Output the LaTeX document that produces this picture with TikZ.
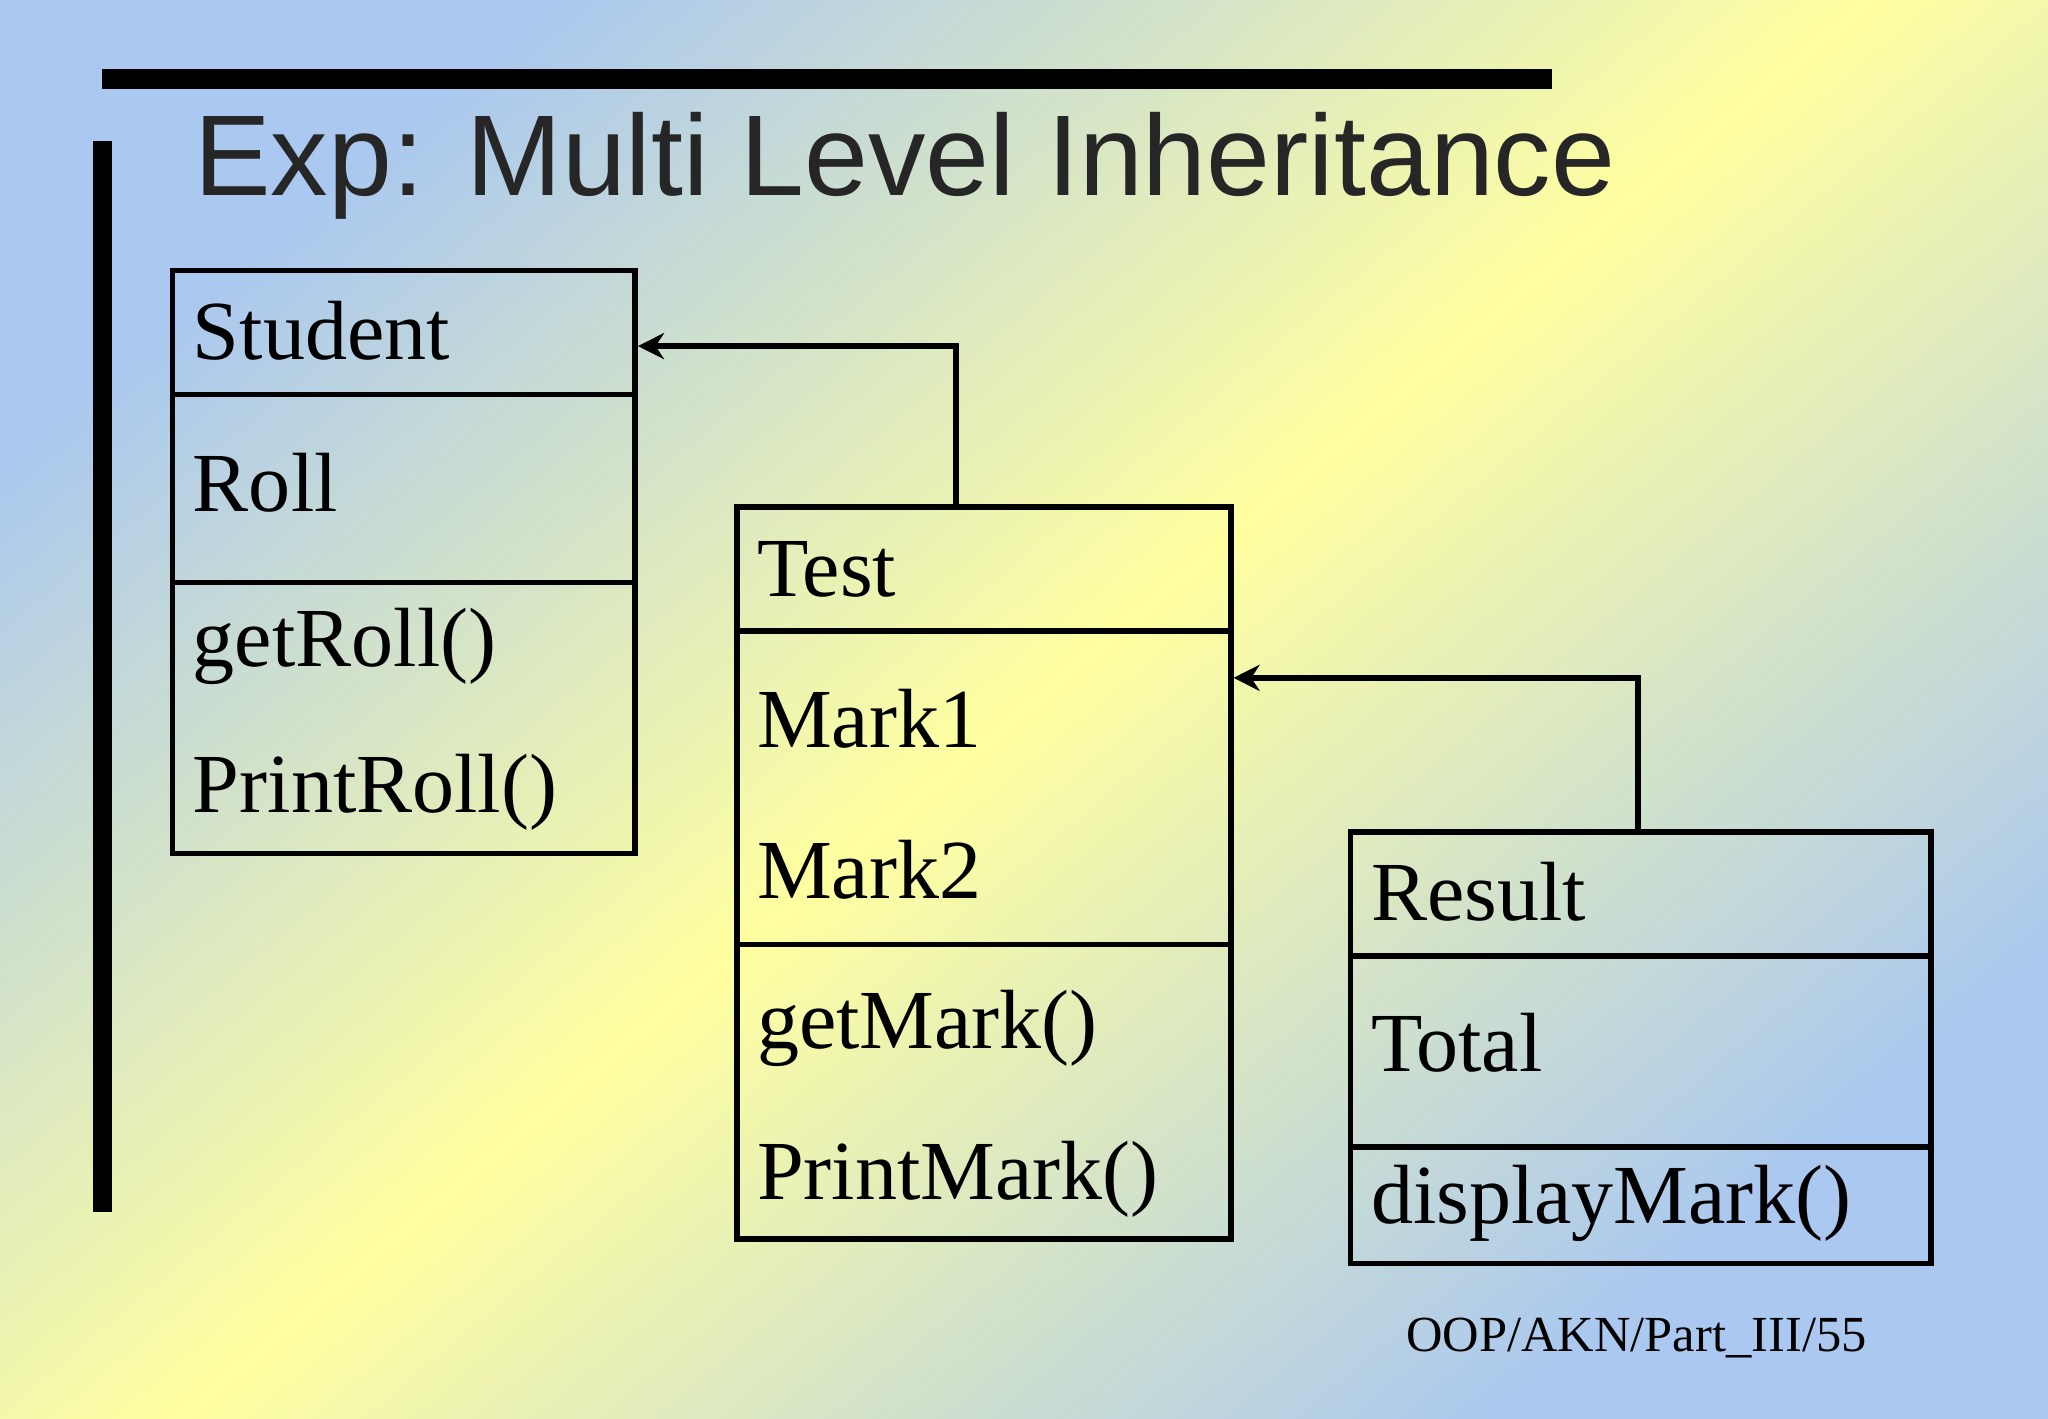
\documentclass[tikz,border=0pt]{standalone}
\usepackage{fontspec}
\setmainfont{Liberation Serif}
\newfontfamily\titlefont{Liberation Sans}
\usetikzlibrary{positioning,calc,arrows,arrows.meta}
\definecolor{bgblue}{RGB}{170,200,240}
\definecolor{bgyellow}{RGB}{255,255,160}
\tikzset{
	box/.style={draw, line width=1.2pt, anchor=north west, inner sep=0pt},
	member/.style={anchor=base west, inner sep=0pt, font=\fontsize{18.3}{18.3}\selectfont},
	divider/.style={line width=1.2pt},
	inherit/.style={line width=1.2pt, -{Stealth[length=2mm, width=2mm]}}
}

\begin{document}
\begin{tikzpicture}[x=0.01cm, y=-0.01cm]
	\useasboundingbox (0,0) rectangle (1568,1086);
	\shade[top color=bgblue, bottom color=bgblue, middle color=bgyellow, shading angle=40] (0,0) rectangle (1568,1086);

	% title and bars
	\fill (78,53) rectangle (1188,68);
	\fill (71,108) rectangle (86,928);
	\node[anchor=base west, inner sep=0pt, font=\titlefont\fontsize{25}{25}\selectfont, text=black!85] (title) at (148,150) {Exp: Multi Level Inheritance};

	% Student
	\node[box, minimum width=3.54cm, minimum height=4.46cm] (student) at (130,205) {};
	\draw[divider] (130,302) -- (484,302);
	\draw[divider] (130,446) -- (484,446);
	\node[member] (sname) at (147,275) {Student};
	\node[member] (roll) at (147,392) {Roll};
	\node[member] (getroll) at (147,510) {getRoll()};
	\node[member] (printroll) at (147,622) {PrintRoll()};

	% Test
	\node[box, minimum width=3.78cm, minimum height=5.6cm] (test) at (562,386) {};
	\draw[divider] (562,483) -- (940,483);
	\draw[divider] (562,723) -- (940,723);
	\node[member] (tname) at (579,457) {Test};
	\node[member] (mark1) at (579,572) {Mark1};
	\node[member] (mark2) at (579,688) {Mark2};
	\node[member] (getmark) at (579,803) {getMark()};
	\node[member] (printmark) at (579,918) {PrintMark()};

	% Result
	\node[box, minimum width=4.44cm, minimum height=3.3cm] (result) at (1032,635) {};
	\draw[divider] (1032,732) -- (1476,732);
	\draw[divider] (1032,878) -- (1476,878);
	\node[member] (rname) at (1049,705) {Result};
	\node[member] (total) at (1049,820) {Total};
	\node[member] (display) at (1049,937) {displayMark()};

	% inheritance
	\coordinate (tup) at (732,386);
	\coordinate (rup) at (1254,635);
	\draw[inherit] (tup) |- (student.east |- 0,265);
	\draw[inherit] (rup) |- (test.east |- 0,519);

	\node[anchor=base west, inner sep=0pt, font=\fontsize{11}{11}\selectfont] (footer) at (1076,1035) {OOP/AKN/Part\_III/55};
\end{tikzpicture}
\end{document}
